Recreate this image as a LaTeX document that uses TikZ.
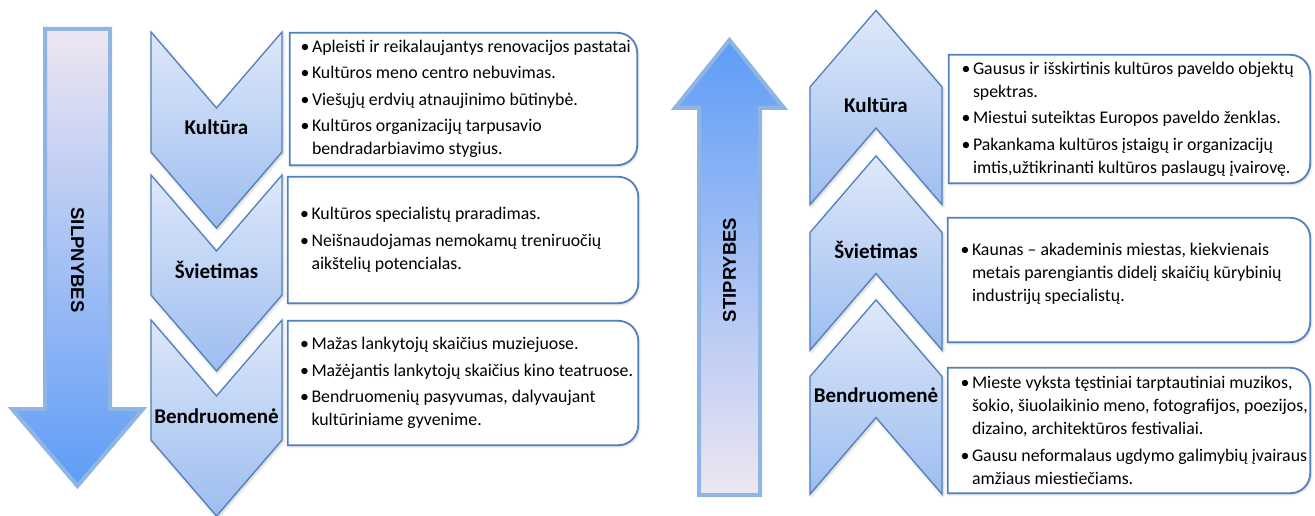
\documentclass[tikz,border=0pt]{standalone}
\usepackage{fontspec}
\setmainfont{Carlito}
\newfontfamily\arrowfont{Liberation Sans}
\usetikzlibrary{shapes,arrows}
\usetikzlibrary{shadows.blur}
\usetikzlibrary{positioning}

\definecolor{chevtop}{HTML}{DEE8F9}
\definecolor{chevbot}{HTML}{9DBDF0}
\definecolor{chevline}{HTML}{5080BC}
\definecolor{arrlav}{HTML}{EEE6F2}
\definecolor{arrblue}{HTML}{5E9CF6}
\definecolor{arrline}{HTML}{8FB5E4}
\definecolor{boxblue}{HTML}{5282BE}

\newcommand{\bul}{\makebox[11.5pt][l]{\textbullet}}
\newcommand{\ind}{\hspace*{11.5pt}}

\begin{document}
\begin{tikzpicture}[x=1pt,y=-1pt]
\tikzset{
chevron/.style={signal, signal pointer angle=81.5, inner xsep=0pt,
    text height=15pt, text depth=5pt, minimum height=0pt,
    draw=chevline, line width=1.3pt, top color=chevtop, bottom color=chevbot,
    font=\fontsize{21}{21}\selectfont\bfseries,
    blur shadow={shadow xshift=1pt, shadow yshift=-1.5pt, shadow blur radius=3pt, shadow opacity=25}},
chevdown/.style={chevron, signal from=north, signal to=south, minimum width=131pt, inner ysep=12pt},
chevup/.style={chevron, signal from=south, signal to=north, minimum width=132pt, inner ysep=10.5pt},
bigarrow/.style={draw=arrline, line width=4pt, line join=miter},
bigtext/.style={font=\arrowfont\fontsize{18.5}{18.5}\selectfont\bfseries},
box/.style={rectangle, draw=none, inner sep=0pt},
boxline/.style={draw=boxblue, fill=white, line width=1.8pt,
    blur shadow={shadow xshift=1pt, shadow yshift=-1.5pt, shadow blur radius=2pt, shadow opacity=20}},
boxtext/.style={align=left, inner sep=0pt, font=\fontsize{17.8}{23}\selectfont}
}
\useasboundingbox (0,0) rectangle (1315,516);

\path[bigarrow, top color=arrlav, bottom color=arrblue]
  (45,29) -- (110,29) -- (110,409) -- (143,409) -- (77.5,486) -- (12,409) -- (45,409) -- cycle;
\node[bigtext, rotate=-90] (silp) at (77.5,260) {SILPNYBES};

\node[chevdown] (kul1) at (216.5,130) {Kultūra};
\node[chevdown] (svi1) at (216.5,273) {Švietimas};
\node[chevdown] (ben1) at (216.5,418) {Bendruomenė};

\node[box, minimum width=347pt, minimum height=132pt] (b1) at (463.5,99) {};
\node[box, minimum width=350pt, minimum height=126pt] (b2) at (463,240) {};
\node[box, minimum width=350pt, minimum height=124pt] (b3) at (463,383) {};
\foreach \b in {b1,b2,b3}
  \draw[boxline] (\b.south west) -- (\b.north west) [rounded corners=20pt] -- (\b.north east)
    -- (\b.south east) [sharp corners] -- cycle;

\node[boxtext, right=10.5pt of b1.west] (t1) {\bul Apleisti ir reikalaujantys renovacijos pastatai\\[3.5pt]
  \bul Kultūros meno centro nebuvimas.\\[3.5pt]
  \bul Viešųjų erdvių atnaujinimo būtinybė.\\[3.5pt]
  \bul Kultūros organizacijų tarpusavio\\
  \ind bendradarbiavimo stygius.};
\node[boxtext, right=12pt of b2.west] (t2) {\bul Kultūros specialistų praradimas.\\[3.5pt]
  \bul Neišnaudojamas nemokamų treniruočių\\
  \ind aikštelių potencialas.};
\node[boxtext, right=12pt of b3.west] (t3) {\bul Mažas lankytojų skaičius muziejuose.\\[3.5pt]
  \bul Mažėjantis lankytojų skaičius kino teatruose.\\[3.5pt]
  \bul Bendruomenių pasyvumas, dalyvaujant\\
  \ind kultūriniame gyvenime.};

\path[bigarrow, top color=arrblue, bottom color=arrlav]
  (699,495) -- (760,495) -- (760,108) -- (784,108) -- (729.5,40) -- (675,108) -- (699,108) -- cycle;
\node[bigtext, rotate=90] (stip) at (729.5,270) {STIPRYBES};

\node[chevup] (kul2) at (876,107.5) {Kultūra};
\node[chevup] (svi2) at (876,253) {Švietimas};
\node[chevup] (ben2) at (876,397) {Bendruomenė};

\node[box, minimum width=361pt, minimum height=128pt] (b4) at (1129.5,119) {};
\node[box, minimum width=362pt, minimum height=124pt] (b5) at (1129,280) {};
\node[box, minimum width=362pt, minimum height=125pt] (b6) at (1129,430.5) {};
\foreach \b in {b4,b5,b6}
  \draw[boxline] (\b.south west) -- (\b.north west) [rounded corners=20pt] -- (\b.north east)
    -- (\b.south east) [sharp corners] -- cycle;

\node[boxtext, right=12.5pt of b4.west] (t4) {\bul Gausus ir išskirtinis kultūros paveldo objektų\\
  \ind spektras.\\[3.5pt]
  \bul Miestui suteiktas Europos paveldo ženklas.\\[3.5pt]
  \bul Pakankama kultūros įstaigų ir organizacijų\\
  \ind imtis,užtikrinanti kultūros paslaugų įvairovę.};
\node[boxtext, right=12.5pt of b5.west, yshift=6pt] (t5) {\bul Kaunas – akademinis miestas, kiekvienais\\
  \ind metais parengiantis didelį skaičių kūrybinių\\
  \ind industrijų specialistų.};
\node[boxtext, right=12.5pt of b6.west] (t6) {\bul Mieste vyksta tęstiniai tarptautiniai muzikos,\\
  \ind šokio, šiuolaikinio meno, fotografijos, poezijos,\\
  \ind dizaino, architektūros festivaliai.\\[3.5pt]
  \bul Gausu neformalaus ugdymo galimybių įvairaus\\
  \ind amžiaus miestiečiams.};
\end{tikzpicture}
\end{document}
